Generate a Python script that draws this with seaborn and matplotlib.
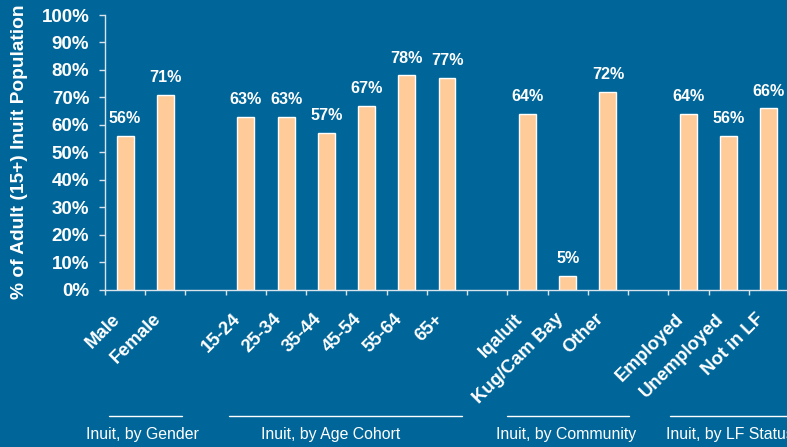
import numpy as np
import pandas as pd
import matplotlib
matplotlib.use("Agg")
import matplotlib.pyplot as plt
import matplotlib.transforms as mtransforms
import seaborn as sns

# ---- data ----
categories = ["Male", "Female",
              "15-24", "25-34", "35-44", "45-54", "55-64", "65+",
              "Iqaluit", "Kug/Cam Bay", "Other",
              "Employed", "Unemployed", "Not in LF"]
values = [56, 71,
          63, 63, 57, 67, 78, 77,
          64, 5, 72,
          64, 56, 66]
# slot order along the axis (spacers between groups)
order = ["Male", "Female", "_gap1",
         "15-24", "25-34", "35-44", "45-54", "55-64", "65+", "_gap2",
         "Iqaluit", "Kug/Cam Bay", "Other", "_gap3",
         "Employed", "Unemployed", "Not in LF"]
group_names = ["Inuit, by Gender", "Inuit, by Age Cohort",
               "Inuit, by Community", "Inuit, by LF Status"]
y_ticks = [0, 10, 20, 30, 40, 50, 60, 70, 80, 90, 100]
y_label = "% of Adult (15+) Inuit Population"

# ---- layout / style ----
BG = "#006699"
BAR = "#FFCC99"
LIGHT = "#D9E3EC"
group_line_spans = [(-0.4, 1.42), (2.58, 8.38), (9.5, 12.53), (13.53, 16.6)]
group_text_x = [0.42, 5.1, 10.97, 15.02]

sns.set_theme(style="white")
plt.rcParams["font.family"] = ["Liberation Sans", "DejaVu Sans"]

fig = plt.figure(figsize=(7.87, 4.47), dpi=100)
fig.patch.set_facecolor(BG)
ax = fig.add_axes([105 / 787, 1 - 289.5 / 447, 684 / 787, 274.5 / 447])
ax.set_facecolor(BG)

df = pd.DataFrame({"category": categories, "value": values})
sns.barplot(data=df, x="category", y="value", order=order, color=BAR,
            saturation=1, edgecolor="white", linewidth=1.0, width=0.42, ax=ax)

ax.set_xlim(-0.5, len(order) - 0.5)
ax.set_ylim(0, 100)
ax.set_xlabel("")
ax.set_ylabel("")

# value labels
for cat, v in zip(categories, values):
    ax.annotate(f"{v}%", (order.index(cat), v), xytext=(0, 7),
                textcoords="offset points", ha="center", va="bottom",
                color="white", fontsize=11.6, fontweight="bold")

# y axis
ax.set_yticks(y_ticks)
ax.set_yticklabels([f"{t}%" for t in y_ticks], color="white",
                   fontsize=13.5, fontweight="bold")
ax.tick_params(axis="y", length=4.3, width=1, color=LIGHT, pad=7, left=True)

# x axis: tick marks at slot boundaries, labels rotated
ax.set_xticks(np.arange(-0.5, len(order)), minor=True)
ax.tick_params(axis="x", which="minor", length=3.8, width=1, color=LIGHT,
               bottom=True, direction="out")
ax.set_xticks(np.arange(len(order)) - 0.33)
ax.set_xticklabels(["" if c.startswith("_") else c for c in order])
ax.tick_params(axis="x", which="major", length=0, pad=15)
for lab in ax.get_xticklabels():
    lab.set_rotation(45)
    lab.set_ha("right")
    lab.set_va("top")
    lab.set_rotation_mode("anchor")
    lab.set_color("white")
    lab.set_fontsize(13.3)
    lab.set_fontweight("bold")

for s in ["top", "right"]:
    ax.spines[s].set_visible(False)
for s in ["left", "bottom"]:
    ax.spines[s].set_color(LIGHT)
    ax.spines[s].set_linewidth(1.0)

# y label
fig.text(20 / 787, 1 - 151.5 / 447, y_label, rotation=90, ha="center",
         va="center", color="white", fontsize=13.8, fontweight="bold")

# group labels with lines
trans = mtransforms.blended_transform_factory(ax.transData, fig.transFigure)
line_y = 1 - 415.7 / 447
text_y = 1 - 434 / 447
for name, (x0, x1), tx in zip(group_names, group_line_spans, group_text_x):
    ax.plot([x0, x1], [line_y, line_y], transform=trans, color="white",
            lw=1.0, clip_on=False)
    ax.text(tx, text_y, name, transform=trans, ha="center", va="center",
            color="white", fontsize=11.4, clip_on=False)

fig.savefig("out.png", dpi=100, facecolor=BG)
